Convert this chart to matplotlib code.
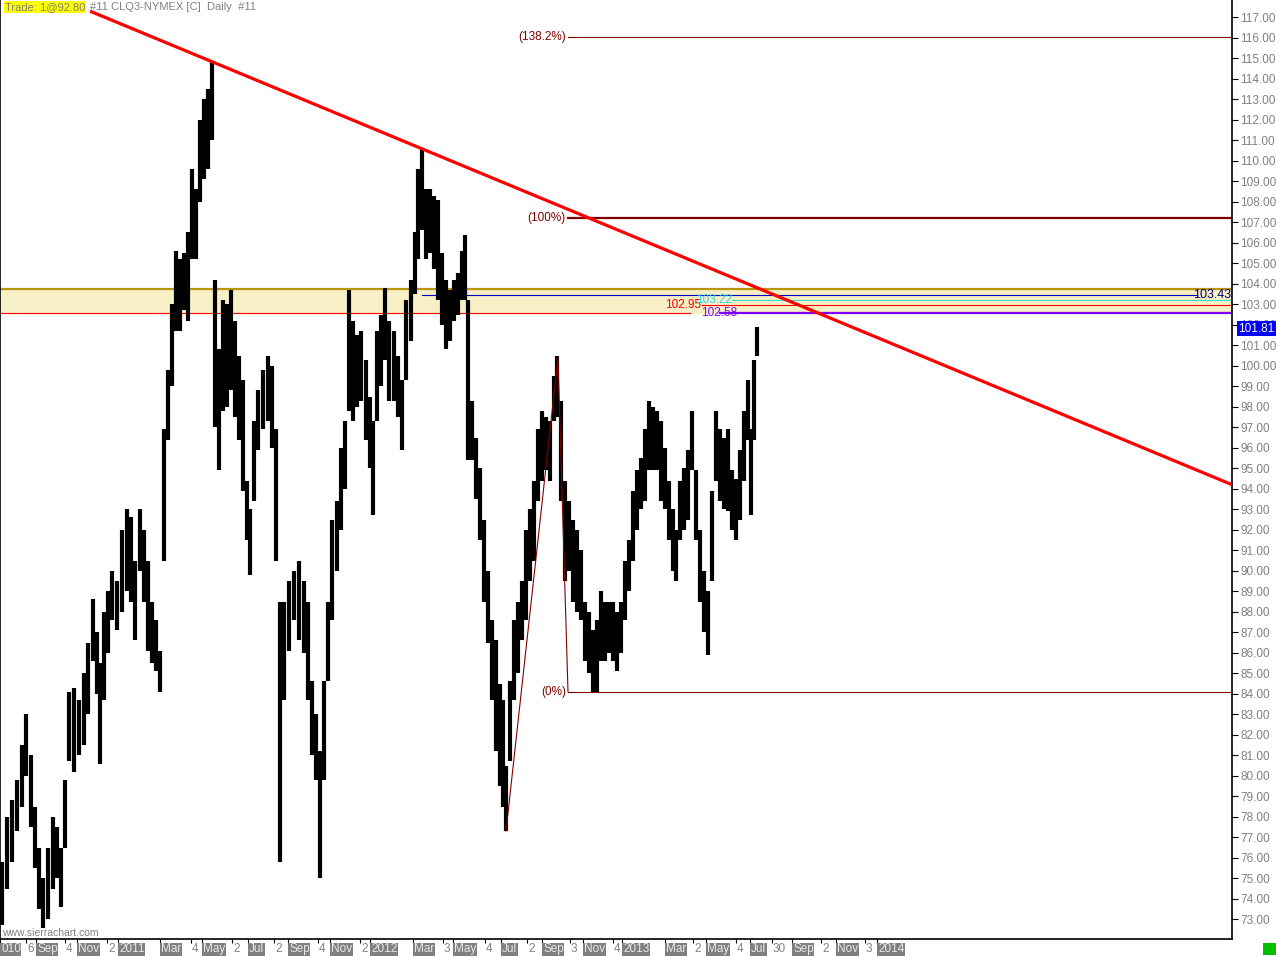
import matplotlib
matplotlib.use("Agg")
import matplotlib.pyplot as plt
from matplotlib.patches import Rectangle
from matplotlib.transforms import blended_transform_factory

plt.rcParams['font.family'] = ['Liberation Sans', 'DejaVu Sans']

# daily CLQ3 price bars (bar index, low, high)
bar_x = [2, 7, 12, 17, 22, 26, 31, 35, 39, 43, 48, 53, 57, 61, 65, 69, 74, 79, 84, 88,
         93, 97, 100, 104, 108, 112, 117, 122, 127, 131, 135, 140, 144, 148, 152, 156, 160, 164, 168, 172,
         176, 180, 184, 188, 192, 196, 200, 204, 208, 212, 215, 219, 223, 227, 231, 235, 239, 243, 247, 250,
         254, 258, 263, 268, 272, 276, 280, 284, 289, 294, 299, 304, 308, 312, 316, 320, 324, 328, 332, 337,
         341, 345, 349, 353, 357, 361, 366, 370, 373, 377, 381, 385, 389, 394, 398, 402, 406, 411, 415, 418,
         422, 426, 430, 434, 438, 442, 446, 450, 454, 458, 462, 465, 468, 472, 476, 480, 484, 488, 492, 496,
         500, 503, 506, 510, 514, 518, 522, 526, 530, 534, 538, 542, 546, 550, 554, 557, 561, 565, 569, 573,
         577, 581, 585, 589, 593, 597, 601, 605, 609, 613, 617, 621, 625, 629, 633, 637, 641, 645, 649, 653,
         657, 661, 665, 669, 673, 676, 680, 684, 688, 692, 696, 700, 704, 708, 712, 716, 720, 724, 728, 732,
         736, 740, 744, 748, 751, 754, 757]
bar_low = [72.7, 74.5, 75.8, 77.3, 78.5, 80.0, 77.5, 75.5, 73.5, 72.6, 73.0, 74.5, 75.0, 73.6, 76.5, 80.7, 80.2, 81.0, 81.5, 83.0,
           85.6, 84.0, 80.6, 83.7, 86.0, 87.6, 87.1, 88.0, 89.0, 88.5, 86.6, 90.0, 88.5, 86.1, 85.5, 85.1, 84.1, 90.5, 96.4, 99.0,
           101.7, 101.7, 102.7, 102.2, 105.2, 105.2, 108.0, 109.1, 109.6, 111.0, 97.0, 94.9, 97.8, 98.0, 98.8, 97.5, 96.4, 93.9, 91.5, 89.8,
           93.4, 95.9, 96.9, 97.3, 96.0, 90.5, 75.8, 83.7, 86.1, 87.6, 86.6, 86.0, 83.7, 81.0, 79.8, 75.0, 79.8, 84.6, 87.6, 90.0,
           92.0, 94.0, 97.8, 97.3, 98.0, 98.3, 96.4, 95.0, 92.7, 97.3, 99.0, 100.3, 98.3, 98.3, 97.5, 95.9, 99.3, 101.2, 103.5, 105.2,
           106.6, 105.2, 105.5, 104.7, 103.2, 102.0, 100.8, 101.2, 102.2, 102.5, 103.2, 103.2, 95.4, 95.4, 93.5, 91.5, 88.5, 86.5, 83.7, 81.2,
           79.5, 78.5, 77.3, 80.7, 83.7, 85.0, 86.6, 87.6, 89.5, 90.5, 93.4, 94.4, 94.9, 94.4, 97.3, 97.5, 93.4, 89.5, 90.0, 88.5,
           88.0, 87.6, 85.6, 85.0, 84.1, 84.1, 85.6, 85.6, 86.0, 85.6, 85.1, 86.0, 87.6, 89.0, 90.5, 92.0, 93.0, 93.4, 94.9, 94.9,
           94.9, 93.4, 93.0, 91.5, 90.0, 89.5, 91.5, 92.0, 92.5, 94.9, 91.5, 88.5, 87.0, 85.9, 89.5, 94.4, 93.4, 93.0, 92.9, 92.0,
           91.5, 92.5, 94.4, 96.4, 92.7, 96.4, 100.5]
bar_high = [75.8, 78.0, 78.8, 79.8, 81.5, 83.0, 81.0, 78.5, 76.5, 75.0, 76.5, 78.0, 77.5, 76.5, 79.8, 84.1, 84.3, 83.7, 85.0, 86.5,
            88.6, 87.0, 85.5, 88.0, 89.0, 90.0, 89.5, 92.0, 93.0, 92.6, 90.5, 93.0, 92.0, 90.5, 88.5, 87.6, 86.1, 96.9, 99.8, 103.0,
            105.6, 105.2, 105.5, 106.5, 109.6, 108.6, 112.0, 113.0, 113.5, 114.8, 104.2, 100.8, 103.2, 103.0, 103.7, 102.2, 100.5, 99.3, 94.4, 93.0,
            97.3, 98.8, 99.8, 100.5, 100.0, 96.9, 88.5, 88.5, 89.5, 90.0, 90.5, 89.5, 88.5, 84.6, 83.0, 81.2, 84.6, 88.5, 92.5, 93.4,
            96.0, 97.3, 103.7, 102.2, 101.5, 101.7, 100.3, 98.5, 97.3, 101.7, 102.5, 103.8, 102.2, 101.7, 100.5, 99.3, 103.2, 104.2, 106.5, 109.6,
            110.6, 108.6, 108.6, 108.3, 108.1, 105.5, 104.2, 103.7, 104.2, 104.5, 105.6, 106.4, 103.2, 98.3, 96.5, 95.0, 92.5, 90.0, 87.6, 86.6,
            84.5, 83.7, 80.5, 84.6, 87.6, 88.5, 89.5, 92.0, 93.0, 94.4, 96.9, 97.8, 97.5, 97.3, 99.5, 100.5, 98.3, 94.4, 93.4, 92.5,
            92.0, 91.0, 88.5, 88.0, 87.1, 87.6, 89.0, 88.5, 88.5, 88.5, 88.0, 88.5, 90.5, 91.5, 93.9, 94.9, 95.5, 96.9, 98.3, 98.0,
            97.8, 97.3, 96.0, 94.4, 93.0, 92.0, 94.4, 95.0, 95.9, 97.8, 94.9, 92.0, 90.0, 89.0, 93.9, 97.8, 96.9, 96.5, 96.9, 94.9,
            94.5, 95.9, 97.8, 99.3, 96.9, 100.3, 101.9]
last_price = 101.81

# drawings: trend line anchors, fib extension points, horizontal levels
trend_x = [211, 1232]
trend_y = [114.85, 94.2]
trend_start = 90
fib_x = [506, 558, 568]
fib_y = [77.3, 100.4, 84.1]
fib_levels = [0.0, 1.0, 1.382]
fib_names = ['(0%)', '(100%)', '(138.2%)']
zone_low, zone_high = 102.58, 103.75
level_values = [102.95, 103.22, 103.43]

# date axis (bar index of each label, text)
date_pos = [0, 26, 36, 65, 77, 107, 118, 160, 191, 202, 232, 248, 274, 288, 318, 330, 360, 370, 413, 443,
            453, 485, 501, 527, 542, 570, 583, 613, 622, 665, 693, 706, 736, 750, 772, 792, 821, 836, 865, 877]
date_text = ['010', '6', 'Sep', '4', 'Nov', '2', '2011', 'Mar', '4', 'May', '2', 'Jul', '2', 'Sep', '4', 'Nov', '2', '2012', 'Mar', '3',
             'May', '4', 'Jul', '2', 'Sep', '3', 'Nov', '4', '2013', 'Mar', '2', 'May', '4', 'Jul', '30', 'Sep', '2', 'Nov', '3', '2014']

W, H = 1276, 957
fig = plt.figure(figsize=(W / 100, H / 100), dpi=100)
ax = fig.add_axes([0, 1 - 939 / H, 1232 / W, 939 / H])
ax.set_xlim(0, 1232)
ax.set_ylim(72.04, 117.84)

# support / resistance zone
ax.axhspan(zone_low, zone_high, color='#f7efc6', zorder=0)
ax.axhline(zone_high, color='#b8960c', lw=1.6, zorder=2)
ax.plot([0, 690], [zone_low, zone_low], color='#ff0000', lw=0.8, zorder=2)
ax.plot([720, 1232], [zone_low, zone_low], color='#8000ff', lw=1.6, zorder=2)
ax.text(737, zone_low, '102.58', color='#8000ff', fontsize=8.5, ha='right', va='center', zorder=5)

# price bars
ax.vlines(bar_x, bar_low, bar_high, color='black', lw=3.0, zorder=3)

# trend line
slope = (trend_y[1] - trend_y[0]) / (trend_x[1] - trend_x[0])
ax.plot([trend_start, trend_x[1]], [trend_y[0] + slope * (trend_start - trend_x[0]), trend_y[1]],
        color='#ff0000', lw=2.3, zorder=4, solid_capstyle='butt')

# fib extension
ax.plot(fib_x, fib_y, color='#800000', lw=0.8, zorder=4)
rng = fib_y[1] - fib_y[0]
for lev, name in zip(fib_levels, fib_names):
    v = fib_y[2] + lev * rng
    ax.plot([fib_x[2], 1232], [v, v], color='#800000', lw=1.6 if lev == 1.0 else 0.8, zorder=2)
    ax.text(fib_x[2] - 2, v, name, color='#800000', fontsize=8.5, ha='right', va='center')

# other levels
ax.plot([702, 1232], [level_values[0]] * 2, color='#ff0000', lw=0.8, zorder=2)
ax.text(701, level_values[0], '102.95', color='#ff0000', fontsize=8.5, ha='right', va='center', zorder=5)
ax.plot([732, 1232], [level_values[1]] * 2, color='#30e0d0', lw=0.8, zorder=2)
ax.text(732, level_values[1], '103.22', color='#30d8e8', fontsize=8.5, ha='right', va='center', zorder=5)
ax.plot([422, 1197], [level_values[2]] * 2, color='#0000c0', lw=0.8, zorder=2)
ax.text(1231, level_values[2], '103.43', color='#000080', fontsize=9, ha='right', va='center', zorder=5)

# axes styling
ax.spines['top'].set_visible(False)
for s in ['left', 'right', 'bottom']:
    ax.spines[s].set_color('black')
    ax.spines[s].set_linewidth(1.2)
ax.yaxis.tick_right()
yt = list(range(73, 118))
ax.set_yticks(yt)
ax.set_yticklabels([f'{v:.2f}' for v in yt])
ax.tick_params(axis='y', length=4, width=0.8, colors='black', labelcolor='#808080', labelsize=8.5, pad=2)
ax.set_xticks(date_pos)
ax.set_xticklabels([''] * len(date_pos))
ax.tick_params(axis='x', length=3, width=0.8, colors='black')

trans = blended_transform_factory(ax.transData, ax.transAxes)
for p, t in zip(date_pos, date_text):
    if t.isdigit() and len(t) <= 2:
        ax.text(p + 1, -0.011, t, transform=trans, color='#808080', fontsize=8.5, ha='left', va='center')
    else:
        ax.text(p + 1, -0.011, t, transform=trans, color='#e8e8e8', fontsize=8.5, ha='left', va='center',
                bbox=dict(boxstyle='square,pad=0.05', fc='#808080', ec='none'))

# current price tag
ax.text(1.005, last_price, f'{last_price:.2f}', transform=blended_transform_factory(ax.transAxes, ax.transData),
        color='white', fontsize=8.5, ha='left', va='center', clip_on=False,
        bbox=dict(boxstyle='square,pad=0.1', fc='#0000ff', ec='none'))

# header / footer text
fig.text(5 / W, 1 - 7 / H, 'Trade: 1@92.80', color='#808080', fontsize=8, ha='left', va='center',
         bbox=dict(boxstyle='square,pad=0.1', fc='#ffff00', ec='none'))
fig.text(90 / W, 1 - 7 / H, '#11 CLQ3-NYMEX [C]  Daily  #11', color='#808080', fontsize=8, ha='left', va='center')
ax.text(2, 72.35, 'www.sierrachart.com', color='#808080', fontsize=7.5, ha='left', va='center')

fig.patches.append(Rectangle((1263 / W, 1 - 955 / H), 13 / W, 12 / H, transform=fig.transFigure,
                             fc='#00c000', ec='none'))

fig.savefig('out.png', dpi=100, facecolor='white')
